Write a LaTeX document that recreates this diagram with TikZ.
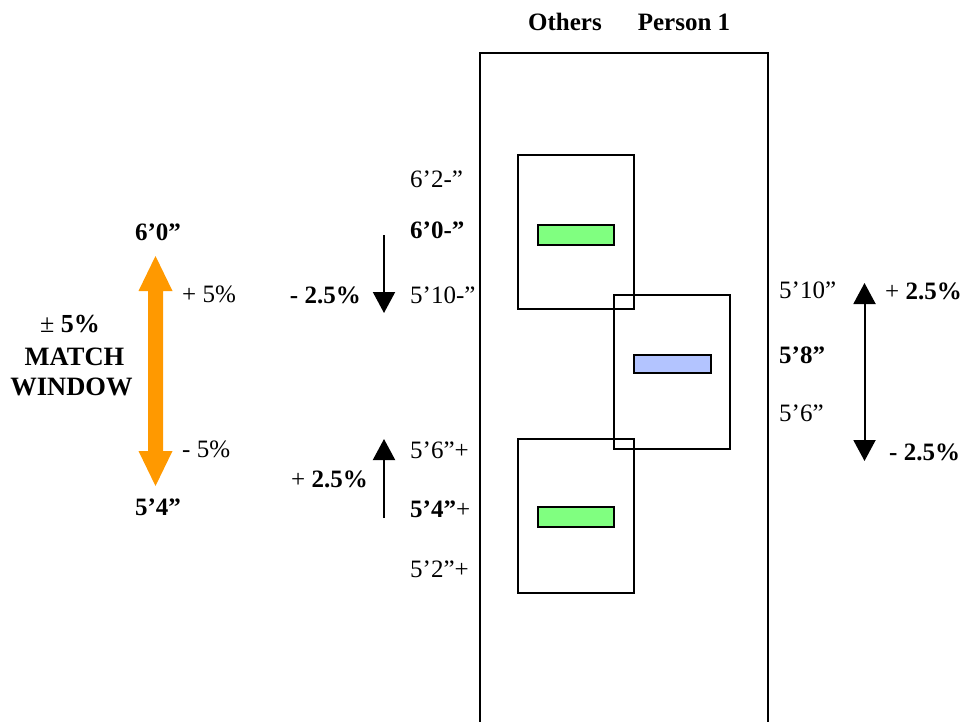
\documentclass[tikz,border=0pt]{standalone}
\usepackage{fontspec}
\setmainfont{Liberation Serif}
\usetikzlibrary{arrows.meta}
\definecolor{winorange}{RGB}{255,153,0}
\definecolor{othergreen}{RGB}{128,255,128}
\definecolor{personblue}{RGB}{179,196,255}
\begin{document}
\begin{tikzpicture}[x=1pt,y=-1pt,
  lbl/.style={inner sep=0pt, font=\fontsize{25}{28}\selectfont},
  bigbold/.style={inner sep=0pt, font=\fontsize{26.5}{30}\selectfont\bfseries},
  frame/.style={draw, line width=2pt, inner sep=0pt},
  bar/.style={draw, line width=2pt, inner sep=0pt, minimum width=76pt, minimum height=20pt},
  pointer/.style={line width=2pt, -{Triangle[width=22pt,length=21pt]}},
  twopointer/.style={line width=2pt, {Triangle[width=22pt,length=21pt]}-{Triangle[width=22pt,length=21pt]}}]
\useasboundingbox (0,0) rectangle (971,722);
\clip (0,0) rectangle (971,722);

% column headings
\node[lbl, anchor=base, font=\fontsize{25}{28}\selectfont\bfseries] (others) at (565,31) {Others};
\node[lbl, anchor=base, font=\fontsize{25}{28}\selectfont\bfseries] (person) at (684,31) {Person 1};

% panel and match boxes
\node[frame, minimum width=288pt, minimum height=687pt] (panel) at (624,396.5) {};
\node[frame, minimum width=116pt, minimum height=154pt] (topbox) at (576,232) {};
\node[frame, minimum width=116pt, minimum height=154pt] (midbox) at (672,372) {};
\node[frame, minimum width=116pt, minimum height=154pt] (botbox) at (576,516) {};
\node[bar, fill=othergreen] (topbar) at (576,235) {};
\node[bar, fill=personblue, minimum height=18pt, minimum width=77pt] (midbar) at (672,364) {};
\node[bar, fill=othergreen] (botbar) at (576,517) {};

% match window arrow
\fill[winorange] (155.5,256) -- (172.5,291) -- (163,291) -- (163,451) -- (172.5,451)
  -- (155.5,486) -- (138.5,451) -- (148,451) -- (148,291) -- (138.5,291) -- cycle;
\node[lbl, anchor=base, font=\fontsize{25}{28}\selectfont\bfseries] (upper) at (158,240) {6’0”};
\node[lbl, anchor=base west] (plusfive) at (182,302) {+ 5\%};
\node[lbl, anchor=base west] (minusfive) at (182,457) {- 5\%};
\node[lbl, anchor=base, font=\fontsize{25}{28}\selectfont\bfseries] (lower) at (158,515) {5’4”};
\node[lbl, anchor=base, font=\fontsize{26}{30}\selectfont] (pm) at (70,332) {± \textbf{5\%}};
\node[bigbold, anchor=base] (match) at (74.5,365) {MATCH};
\node[bigbold, anchor=base] (window) at (71.5,395) {WINDOW};

% others: height scale
\node[lbl, anchor=base west] (o62) at (410,187) {6’2-”};
\node[lbl, anchor=base west, font=\fontsize{25}{28}\selectfont\bfseries] (o60) at (410,238) {6’0-”};
\node[lbl, anchor=base west] (o510) at (410,303) {5’10-”};
\node[lbl, anchor=base west] (o56) at (410,458) {5’6”+};
\node[lbl, anchor=base west] (o54) at (410,517) {\textbf{5’4”}+};
\node[lbl, anchor=base west] (o52) at (410,577) {5’2”+};
\node[lbl, anchor=base east, font=\fontsize{25}{28}\selectfont\bfseries] (ominus) at (361,303) {- 2.5\%};
\node[lbl, anchor=base east] (oplus) at (368,487) {+ \textbf{2.5\%}};
\coordinate (downstart) at (384,235);
\coordinate (downend) at (384,313);
\coordinate (upstart) at (384,518);
\coordinate (upend) at (384,439);
\draw[pointer] (downstart) -- (downend);
\draw[pointer] (upstart) -- (upend);

% person 1: height scale
\node[lbl, anchor=base west] (p510) at (779,298) {5’10”};
\node[lbl, anchor=base west, font=\fontsize{25}{28}\selectfont\bfseries] (p58) at (779,363) {5’8”};
\node[lbl, anchor=base west] (p56) at (779,421) {5’6”};
\node[lbl, anchor=base west] (pplus) at (885,299) {+ \textbf{2.5\%}};
\node[lbl, anchor=base west, font=\fontsize{25}{28}\selectfont\bfseries] (pminus) at (889,460) {- 2.5\%};
\coordinate (ptop) at (864.5,283);
\coordinate (pbot) at (864.5,461);
\draw[twopointer] (ptop) -- (pbot);
\end{tikzpicture}
\end{document}
